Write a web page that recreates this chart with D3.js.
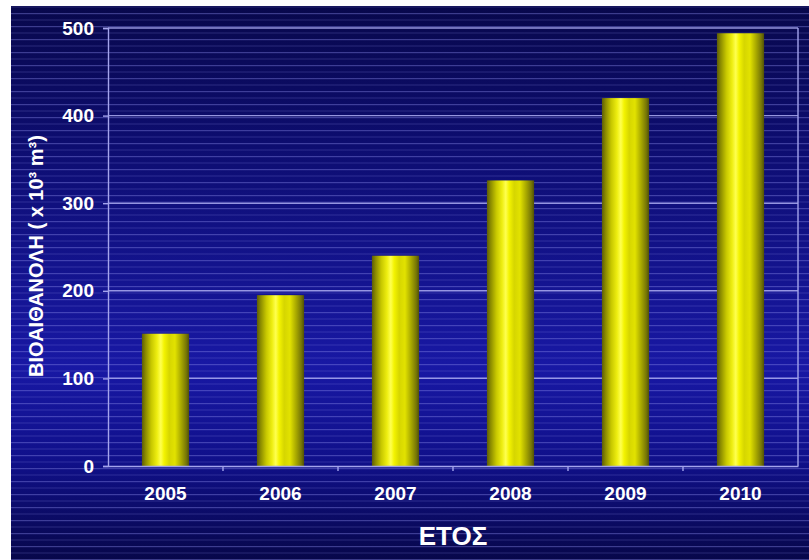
<!DOCTYPE html>
<html>
<head>
<meta charset="utf-8">
<script src="https://cdn.jsdelivr.net/npm/d3@7"></script>
<style>
  html, body { margin: 0; padding: 0; background: #ffffff; }
  svg { display: block; }
  text { font-family: "Liberation Sans", Arial, sans-serif; font-weight: bold; fill: #ffffff; }
</style>
</head>
<body>
<svg id="chart" width="809" height="560"></svg>
<script>
// Bioethanol production by year (thousand cubic metres)
const years = ["2005", "2006", "2007", "2008", "2009", "2010"];
const production = [151, 195, 240, 326, 420, 494];
const yTicks = [0, 100, 200, 300, 400, 500];

const W = 809, H = 560;
const plot = { left: 108, right: 798, top: 28, bottom: 466 };

const svg = d3.select("#chart");
const defs = svg.append("defs");

// Background: deep navy fading to a brighter blue lower down
const bg = defs.append("linearGradient").attr("id", "bgGrad")
  .attr("x1", 0).attr("y1", 0).attr("x2", 0).attr("y2", 1);
[["0%", "#08084c"], ["25%", "#0d0d70"], ["65%", "#1818a4"], ["82%", "#10108a"], ["100%", "#07074a"]]
  .forEach(([o, c]) => bg.append("stop").attr("offset", o).attr("stop-color", c));

// Thin horizontal pinstripes laid over the background
const stripes = defs.append("pattern").attr("id", "stripes")
  .attr("patternUnits", "userSpaceOnUse").attr("width", 20).attr("height", 13);
stripes.append("rect").attr("x", 0).attr("y", 0).attr("width", 20).attr("height", 1.2)
  .attr("fill", "#8a8ae8").attr("opacity", 0.4);
stripes.append("rect").attr("x", 0).attr("y", 6.5).attr("width", 20).attr("height", 1)
  .attr("fill", "#8a8ae8").attr("opacity", 0.24);

// Cylinder-like shading across each bar
const barGrad = defs.append("linearGradient").attr("id", "barGrad")
  .attr("x1", 0).attr("y1", 0).attr("x2", 1).attr("y2", 0);
[["0%", "#5c5c08"], ["8%", "#8c8c00"], ["20%", "#c8c800"], ["32%", "#eeee10"],
 ["40%", "#ffff50"], ["47%", "#f4f400"], ["58%", "#d6d600"], ["70%", "#e2e200"],
 ["84%", "#a4a400"], ["94%", "#767606"], ["100%", "#505008"]]
  .forEach(([o, c]) => barGrad.append("stop").attr("offset", o).attr("stop-color", c));

// Panel background
svg.append("rect").attr("x", 11).attr("y", 6).attr("width", W - 11).attr("height", H - 6)
  .attr("fill", "url(#bgGrad)");
svg.append("rect").attr("x", 11).attr("y", 6).attr("width", W - 11).attr("height", H - 6)
  .attr("fill", "url(#stripes)");

// Scales
const x = d3.scaleBand().domain(years)
  .range([plot.left, plot.right]).paddingInner(0.59).paddingOuter(0.295);
const y = d3.scaleLinear().domain([0, 500]).range([plot.bottom, plot.top]);

const lineColor = "#a4a4ec";

// Horizontal gridlines
svg.append("g").selectAll("line").data(yTicks.filter(d => d > 0)).join("line")
  .attr("x1", plot.left).attr("x2", plot.right)
  .attr("y1", d => y(d)).attr("y2", d => y(d))
  .attr("stroke", lineColor).attr("stroke-width", 1.4).attr("opacity", 0.9);

// Right frame edge
svg.append("line").attr("x1", plot.right).attr("x2", plot.right)
  .attr("y1", plot.top).attr("y2", plot.bottom)
  .attr("stroke", lineColor).attr("stroke-width", 1.4);

// Bars
svg.append("g").selectAll("rect").data(years).join("rect")
  .attr("x", d => x(d))
  .attr("width", x.bandwidth())
  .attr("y", (d, i) => y(production[i]))
  .attr("height", (d, i) => y(0) - y(production[i]))
  .attr("fill", "url(#barGrad)");

// Y axis
const yAxis = svg.append("g").attr("transform", `translate(${plot.left},0)`)
  .call(d3.axisLeft(y).tickValues(yTicks).tickSize(5).tickPadding(9).tickFormat(d3.format("d")));
yAxis.select(".domain").attr("stroke", lineColor).attr("stroke-width", 1.4);
yAxis.selectAll(".tick line").attr("stroke", lineColor).attr("stroke-width", 1.4);
yAxis.selectAll(".tick text").attr("font-size", 19).attr("font-family", "Liberation Sans, Arial, sans-serif")
  .attr("font-weight", "bold").attr("fill", "#ffffff");

// X axis: category labels
const xAxis = svg.append("g").attr("transform", `translate(0,${plot.bottom})`)
  .call(d3.axisBottom(x).tickSize(0).tickPadding(21));
xAxis.select(".domain").attr("stroke", lineColor).attr("stroke-width", 1.4);
xAxis.selectAll(".tick text").attr("font-size", 19).attr("font-family", "Liberation Sans, Arial, sans-serif")
  .attr("font-weight", "bold").attr("fill", "#ffffff");

// X axis: tick marks between categories
const step = x.step();
svg.append("g").selectAll("line").data(years.slice(0, -1)).join("line")
  .attr("x1", d => x(d) + x.bandwidth() / 2 + step / 2)
  .attr("x2", d => x(d) + x.bandwidth() / 2 + step / 2)
  .attr("y1", plot.bottom).attr("y2", plot.bottom + 5)
  .attr("stroke", lineColor).attr("stroke-width", 1.4);

// Axis titles
svg.append("text")
  .attr("x", (plot.left + plot.right) / 2)
  .attr("y", 545)
  .attr("text-anchor", "middle")
  .attr("font-size", 26)
  .text("ΕΤΟΣ");

svg.append("text")
  .attr("transform", "translate(43,256) rotate(-90)")
  .attr("text-anchor", "middle")
  .attr("font-size", 20)
  .text("ΒΙΟΑΙΘΑΝΟΛΗ ( x 10³ m³)");
</script>
</body>
</html>
